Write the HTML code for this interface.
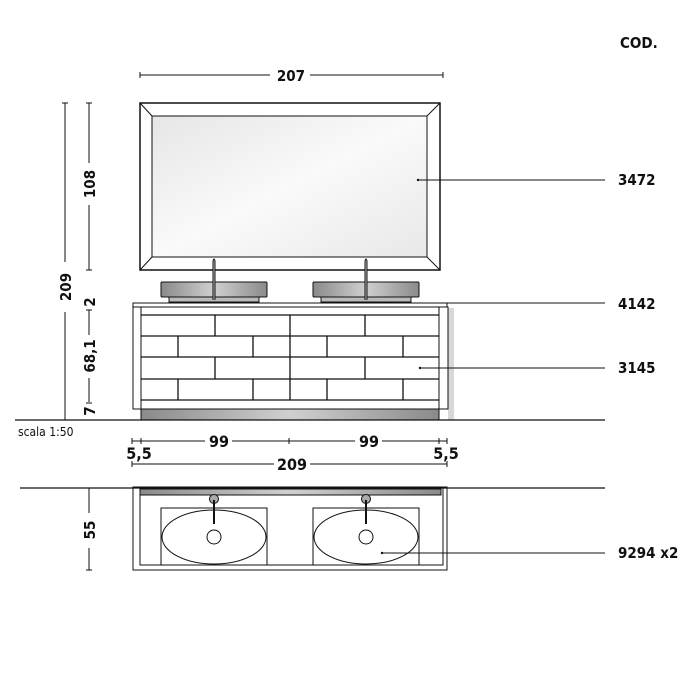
<!DOCTYPE html>
<html><head><meta charset="utf-8"><style>html,body{margin:0;padding:0;background:#fff}svg{display:block}text{font-family:"DejaVu Sans Condensed","Liberation Sans",sans-serif;font-weight:bold;fill:#111}</style></head>
<body>
<svg width="700" height="700" viewBox="0 0 700 700" xmlns="http://www.w3.org/2000/svg">
<defs>
<linearGradient id="g1" x1="0" x2="1"><stop offset="0" stop-color="#8a8a8a"/><stop offset="0.5" stop-color="#d0d0d0"/><stop offset="1" stop-color="#8a8a8a"/></linearGradient>
<linearGradient id="gm" x1="0" y1="0" x2="1" y2="1"><stop offset="0" stop-color="#e6e6e6"/><stop offset="0.5" stop-color="#fafafa"/><stop offset="1" stop-color="#e8e8e8"/></linearGradient>
</defs>
<g stroke="#111" stroke-width="1" fill="none">
<line x1="140" y1="75" x2="270" y2="75"/><line x1="310" y1="75" x2="443" y2="75"/>
<line x1="140" y1="72" x2="140" y2="78"/><line x1="443" y1="72" x2="443" y2="78"/>
<rect x="140" y="103" width="300" height="167" stroke-width="1.5"/>
<rect x="152" y="116" width="275" height="141" fill="url(#gm)"/>
<line x1="140" y1="103" x2="152" y2="116"/><line x1="440" y1="103" x2="427" y2="116"/>
<line x1="140" y1="270" x2="152" y2="257"/><line x1="440" y1="270" x2="427" y2="257"/>
<line x1="65" y1="103" x2="65" y2="262"/><line x1="65" y1="312" x2="65" y2="420"/>
<line x1="62" y1="103" x2="68" y2="103"/>
<line x1="89" y1="103" x2="89" y2="163"/><line x1="89" y1="205" x2="89" y2="270"/>
<line x1="86" y1="103" x2="92" y2="103"/><line x1="86" y1="270" x2="92" y2="270"/>
<line x1="89" y1="310" x2="89" y2="335"/><line x1="89" y1="378" x2="89" y2="402"/>
<line x1="86" y1="310" x2="92" y2="310"/><line x1="86" y1="403" x2="92" y2="403"/>
<rect x="169" y="296" width="90" height="6" fill="#bbb"/>
<rect x="161" y="282" width="106" height="15" fill="url(#g1)" rx="1"/>
<rect x="321" y="296" width="90" height="6" fill="#bbb"/>
<rect x="313" y="282" width="106" height="15" fill="url(#g1)" rx="1"/>
<path d="M213 300 V261 Q214 257 215 261 V300" fill="#bbb"/>
<path d="M365 300 V261 Q366 257 367 261 V300" fill="#bbb"/>
<rect x="448" y="308" width="6" height="112" fill="#d8d8d8" stroke="none"/>
<rect x="133" y="303" width="314" height="4" fill="#fff"/>
<rect x="133" y="307" width="315" height="102" fill="#fff"/>
<rect x="141" y="307" width="298" height="102"/>
<rect x="141" y="409" width="298" height="11" fill="url(#g1)"/>
<g stroke-width="1.3">
<line x1="141" y1="315" x2="439" y2="315"/><line x1="141" y1="336" x2="439" y2="336"/>
<line x1="141" y1="357" x2="439" y2="357"/><line x1="141" y1="379" x2="439" y2="379"/>
<line x1="141" y1="400" x2="439" y2="400"/>
<line x1="290" y1="315" x2="290" y2="400"/>
<line x1="215" y1="315" x2="215" y2="336"/><line x1="365" y1="315" x2="365" y2="336"/>
<line x1="215" y1="357" x2="215" y2="379"/><line x1="365" y1="357" x2="365" y2="379"/>
<line x1="178" y1="336" x2="178" y2="357"/><line x1="253" y1="336" x2="253" y2="357"/><line x1="327" y1="336" x2="327" y2="357"/><line x1="403" y1="336" x2="403" y2="357"/>
<line x1="178" y1="379" x2="178" y2="400"/><line x1="253" y1="379" x2="253" y2="400"/><line x1="327" y1="379" x2="327" y2="400"/><line x1="403" y1="379" x2="403" y2="400"/>
</g>
<line x1="15" y1="420" x2="605" y2="420" stroke-width="1.3"/>
<line x1="132" y1="441" x2="205" y2="441"/><line x1="232" y1="441" x2="355" y2="441"/><line x1="382" y1="441" x2="447" y2="441"/>
<line x1="132" y1="438" x2="132" y2="444"/><line x1="289" y1="438" x2="289" y2="444"/><line x1="447" y1="438" x2="447" y2="444"/>
<line x1="141" y1="438" x2="141" y2="444"/><line x1="439" y1="438" x2="439" y2="444"/>
<line x1="132" y1="464" x2="274" y2="464"/><line x1="310" y1="464" x2="447" y2="464"/>
<line x1="132" y1="461" x2="132" y2="467"/><line x1="447" y1="461" x2="447" y2="467"/>
<line x1="20" y1="488" x2="605" y2="488" stroke-width="1.3"/>
<rect x="133" y="487" width="314" height="83"/>
<rect x="140" y="487" width="303" height="78"/>
<rect x="140" y="489" width="301" height="6" fill="url(#g1)"/>
<rect x="161" y="508" width="106" height="57"/>
<rect x="313" y="508" width="106" height="57"/>
<ellipse cx="214" cy="537" rx="52" ry="27"/>
<ellipse cx="366" cy="537" rx="52" ry="27"/>
<circle cx="214" cy="537" r="7"/><circle cx="366" cy="537" r="7"/>
<circle cx="214" cy="499" r="4.5" fill="#aaa"/><circle cx="366" cy="499" r="4.5" fill="#aaa"/>
<line x1="214" y1="500" x2="214" y2="524" stroke-width="2"/><line x1="366" y1="500" x2="366" y2="524" stroke-width="2"/>
<line x1="89" y1="488" x2="89" y2="513"/><line x1="89" y1="548" x2="89" y2="570"/>
<line x1="86" y1="570" x2="92" y2="570"/>
<line x1="418" y1="180" x2="605" y2="180"/>
<line x1="420" y1="303" x2="605" y2="303"/>
<line x1="420" y1="368" x2="605" y2="368"/>
<line x1="382" y1="553" x2="605" y2="553"/>
</g>
<g fill="#111"><circle cx="418" cy="180" r="1.2"/><circle cx="420" cy="368" r="1.2"/><circle cx="382" cy="553" r="1.2"/></g>
<text x="620" y="48" font-size="15">COD.</text>
<text x="291" y="81" font-size="15" text-anchor="middle">207</text>
<text x="618" y="185" font-size="15">3472</text>
<text x="618" y="309" font-size="15">4142</text>
<text x="618" y="373" font-size="15">3145</text>
<text x="618" y="558" font-size="15">9294 x2</text>
<text x="219" y="447" font-size="16" text-anchor="middle">99</text>
<text x="369" y="447" font-size="16" text-anchor="middle">99</text>
<text x="139" y="459" font-size="16" text-anchor="middle">5,5</text>
<text x="446" y="459" font-size="16" text-anchor="middle">5,5</text>
<text x="292" y="470" font-size="16" text-anchor="middle">209</text>
<text x="18" y="436" font-size="12" style="font-weight:normal">scala  1:50</text>
<g font-size="15">
<text transform="translate(71,287) rotate(-90)" text-anchor="middle">209</text>
<text transform="translate(95,184) rotate(-90)" text-anchor="middle">108</text>
<text transform="translate(95,302) rotate(-90)" text-anchor="middle">2</text>
<text transform="translate(95,356) rotate(-90)" text-anchor="middle">68,1</text>
<text transform="translate(95,411) rotate(-90)" text-anchor="middle">7</text>
<text transform="translate(95,530) rotate(-90)" text-anchor="middle">55</text>
</g>
</svg>
</body></html>
